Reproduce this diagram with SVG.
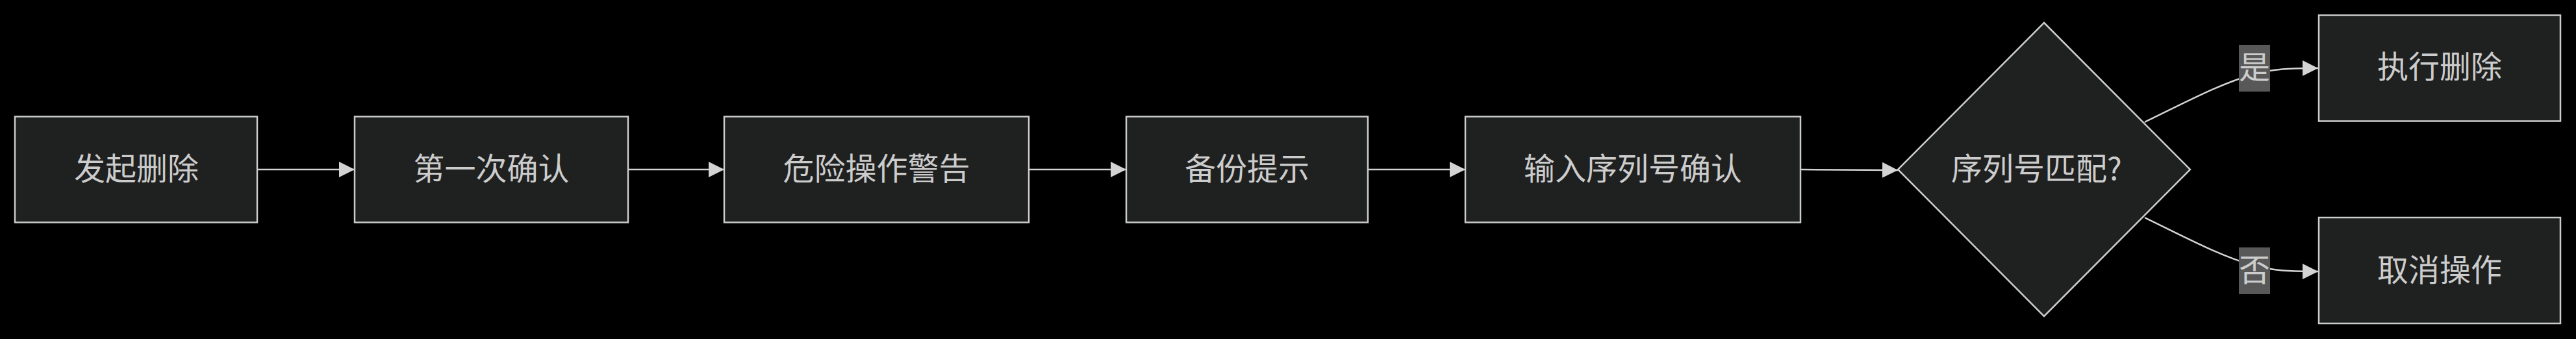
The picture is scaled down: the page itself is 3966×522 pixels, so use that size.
<svg xmlns="http://www.w3.org/2000/svg" width="3966" height="522" viewBox="0 0 3966 522">
<defs>
<style>
.node rect, .node polygon { fill: #1f2020; stroke: #cccccc; stroke-width: 2.5; }
.node text { fill: #cccccc; font-family: "Noto Sans CJK SC", "Noto Sans", sans-serif; font-size: 48px; text-anchor: middle; }
.edge { fill: none; stroke: #d3d3d3; stroke-width: 2.5; marker-end: url(#arrow); }
.elabel rect { fill: #585858; stroke: none; }
.elabel text { fill: #cccccc; font-family: "Noto Sans CJK SC", "Noto Sans", sans-serif; font-size: 48px; text-anchor: middle; }
</style>
<marker id="arrow" viewBox="0 0 10 10" refX="10" refY="5" markerUnits="userSpaceOnUse" markerWidth="24" markerHeight="24" orient="auto">
<path d="M0,0 L10,5 L0,10 z" fill="#d3d3d3"/>
</marker>
</defs>
<rect x="0" y="0" width="3966" height="522" fill="#000000"/>
<g id="connectors">
<path class="edge" d="M396,261 L546,261"/>
<path class="edge" d="M967,261 L1115,261"/>
<path class="edge" d="M1584,261 L1734,261"/>
<path class="edge" d="M2106,261 L2256,261"/>
<path class="edge" d="M2772,261 C2840,261 2880,261.5 2922,262"/>
<path class="edge" d="M3302,188 C3370,155 3420,128 3471,114 C3500,106 3525,105 3569,105"/>
<path class="edge" d="M3302,335 C3370,368 3420,395 3471,409 C3500,417 3525,418 3569,418"/>
</g>
<g id="edge-label-yes" class="elabel">
<rect x="3447" y="69" width="48" height="72"/>
<text x="3471" y="121">是</text>
</g>
<g id="edge-label-no" class="elabel">
<rect x="3447" y="381" width="48" height="72"/>
<text x="3471" y="433">否</text>
</g>
<g id="n1" class="node">
<rect x="23" y="179.5" width="373" height="163"/>
<text x="210" y="277">发起删除</text>
</g>
<g id="n2" class="node">
<rect x="546" y="179.5" width="421" height="163"/>
<text x="756.5" y="277">第一次确认</text>
</g>
<g id="n3" class="node">
<rect x="1115" y="179.5" width="469" height="163"/>
<text x="1349.5" y="277">危险操作警告</text>
</g>
<g id="n4" class="node">
<rect x="1734" y="179.5" width="372" height="163"/>
<text x="1920" y="277">备份提示</text>
</g>
<g id="n5" class="node">
<rect x="2256" y="179.5" width="516" height="163"/>
<text x="2514" y="277">输入序列号确认</text>
</g>
<g id="n6" class="node">
<polygon points="3147,35 3372,261 3147,487 2922,261"/>
<text x="3004" y="277" style="text-anchor:start">序列号匹配?</text>
</g>
<g id="n7" class="node">
<rect x="3570" y="23.5" width="372" height="163"/>
<text x="3756" y="120">执行删除</text>
</g>
<g id="n8" class="node">
<rect x="3570" y="335" width="372" height="163"/>
<text x="3756" y="433">取消操作</text>
</g>
</svg>
